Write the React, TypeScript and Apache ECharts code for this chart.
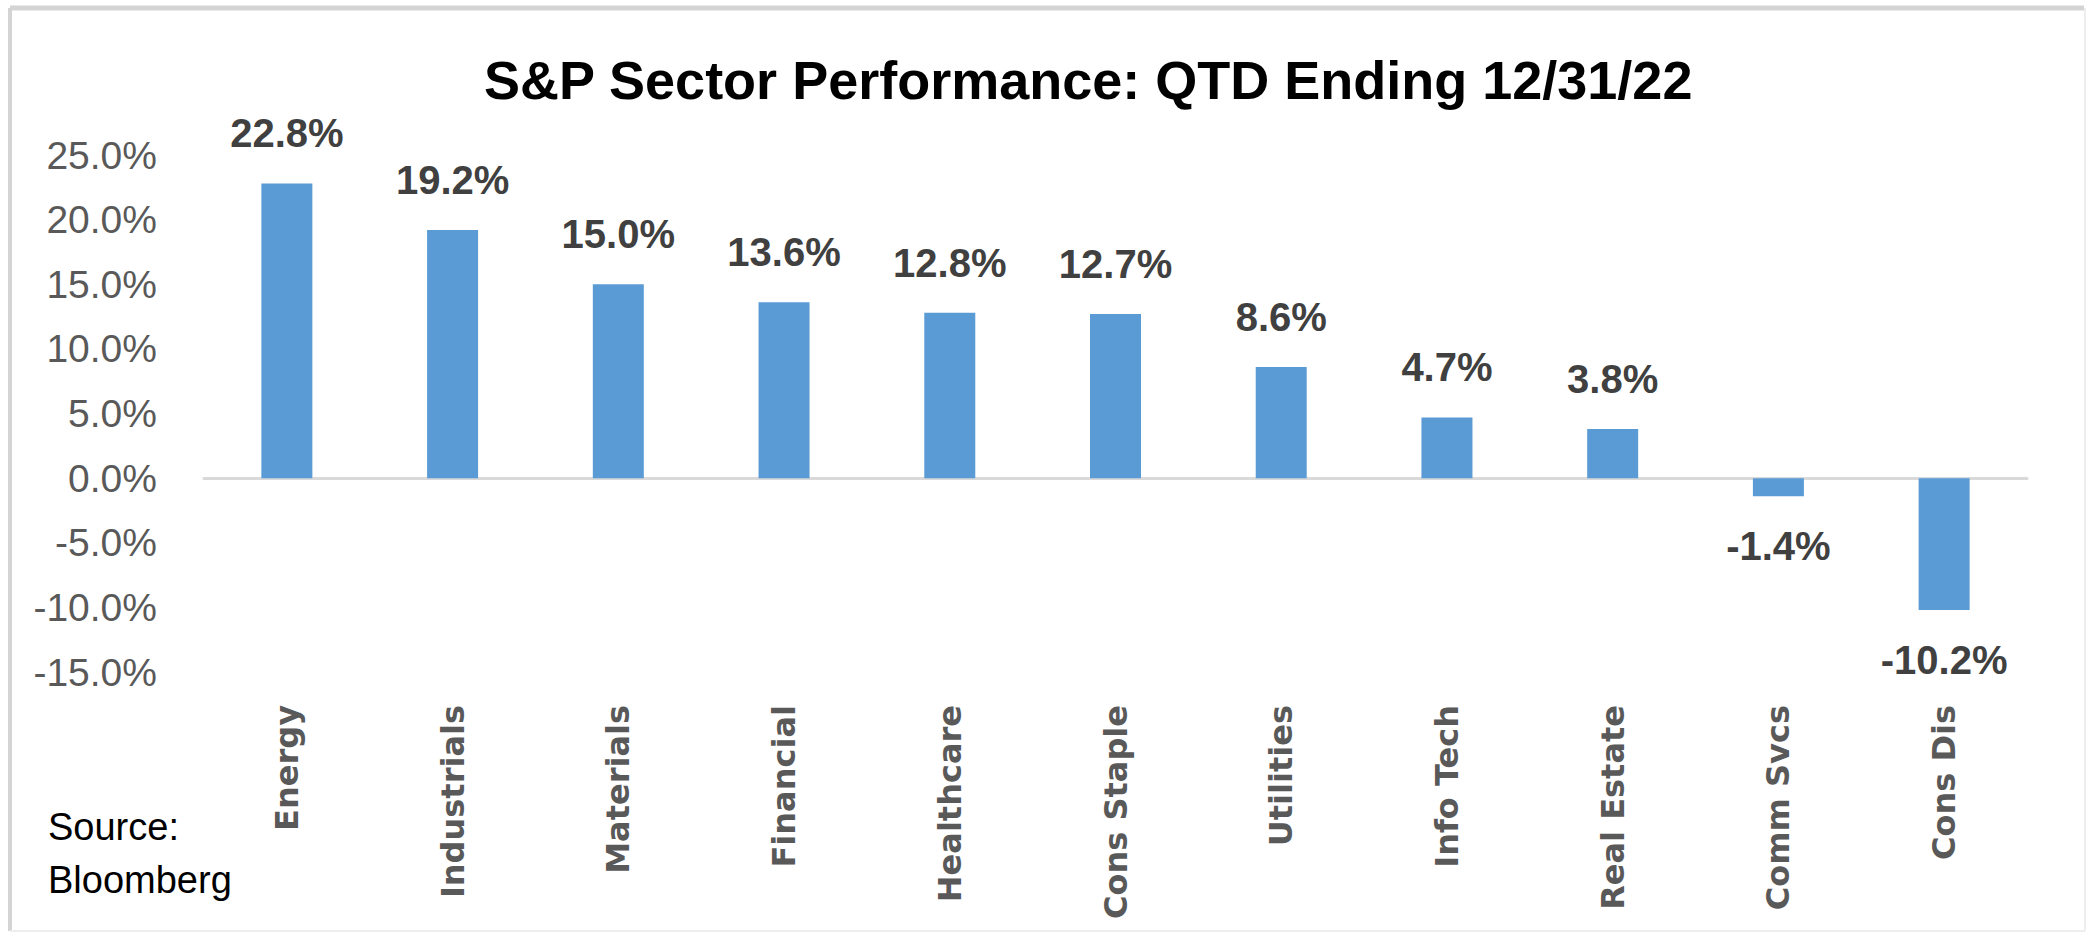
import React, { useEffect, useRef } from "react";
import * as echarts from "echarts";

const categories = [
  "Energy",
  "Industrials",
  "Materials",
  "Financial",
  "Healthcare",
  "Cons Staple",
  "Utilities",
  "Info Tech",
  "Real Estate",
  "Comm Svcs",
  "Cons Dis",
];
const values = [22.8, 19.2, 15.0, 13.6, 12.8, 12.7, 8.6, 4.7, 3.8, -1.4, -10.2];
const titleText = "S&P Sector Performance: QTD Ending 12/31/22";
const sourceText = "Source:\nBloomberg";
const yMin = -15;
const yMax = 25;
const yStep = 5;

const BASE_FONT = "'Liberation Sans', Arial, sans-serif";
const CAT_FONT = "'DejaVu Sans', Verdana, sans-serif";

export default function App() {
  const ref = useRef<HTMLDivElement>(null);

  useEffect(() => {
    document.body.style.margin = "0";
    const chart = echarts.init(ref.current!, undefined, { renderer: "svg" });
    const option: any = {
      animation: false,
      backgroundColor: "#ffffff",
      title: {
        text: titleText,
        left: 479,
        top: 48,
        textStyle: {
          fontFamily: BASE_FONT,
          fontWeight: "bold",
          fontSize: 54,
          color: "#000000",
        },
      },
      grid: { left: 204, right: 60, top: 155, bottom: 261, containLabel: false },
      xAxis: [
        {
          type: "category",
          data: categories,
          position: "bottom",
          axisLine: { show: false, onZero: false },
          axisTick: { show: false },
          axisLabel: {
            rotate: 90,
            margin: 33,
            interval: 0,
            fontFamily: CAT_FONT,
            fontWeight: "bold",
            fontSize: 32,
            color: "#595959",
          },
          splitLine: { show: false },
        },
        {
          type: "category",
          data: categories,
          position: "bottom",
          axisLine: { show: true, onZero: true, lineStyle: { color: "#d9d9d9", width: 3 } },
          axisTick: { show: false },
          axisLabel: { show: false },
          splitLine: { show: false },
        },
      ],
      yAxis: {
        type: "value",
        min: yMin,
        max: yMax,
        interval: yStep,
        axisLine: { show: false },
        axisTick: { show: false },
        splitLine: { show: false },
        axisLabel: {
          margin: 47,
          fontFamily: BASE_FONT,
          fontSize: 39,
          color: "#595959",
          formatter: (v: number) => v.toFixed(1) + "%",
        },
      },
      series: [
        {
          type: "bar",
          xAxisIndex: 0,
          barWidth: 51,
          itemStyle: { color: "#5b9bd5" },
          data: values.map((v) => ({
            value: v,
            label: { position: v < 0 ? "bottom" : "top" },
          })),
          label: {
            show: true,
            distance: 30,
            fontFamily: BASE_FONT,
            fontWeight: "bold",
            fontSize: 40,
            color: "#404040",
            formatter: (p: any) => Number(p.value).toFixed(1) + "%",
          },
        },
      ],
      graphic: [
        {
          type: "line",
          shape: { x1: 10, y1: 8, x2: 2084, y2: 8 },
          style: { stroke: "#d4d4d4", lineWidth: 5 },
        },
        {
          type: "line",
          shape: { x1: 10, y1: 8, x2: 10, y2: 931 },
          style: { stroke: "#d4d4d4", lineWidth: 4 },
        },
        {
          type: "line",
          shape: { x1: 2085, y1: 8, x2: 2085, y2: 931 },
          style: { stroke: "#eeeeee", lineWidth: 2 },
        },
        {
          type: "line",
          shape: { x1: 10, y1: 931, x2: 2085, y2: 931 },
          style: { stroke: "#eeeeee", lineWidth: 2 },
        },
        {
          type: "text",
          left: 48,
          top: 800,
          style: {
            text: sourceText,
            fontFamily: BASE_FONT,
            fontSize: 38,
            lineHeight: 53,
            fill: "#000000",
          },
        },
      ],
    };
    chart.setOption(option);
    return () => chart.dispose();
  }, []);

  return (
    <div
      ref={ref}
      style={{ width: 2087, height: 933, position: "absolute", left: 0, top: 0 }}
    />
  );
}
